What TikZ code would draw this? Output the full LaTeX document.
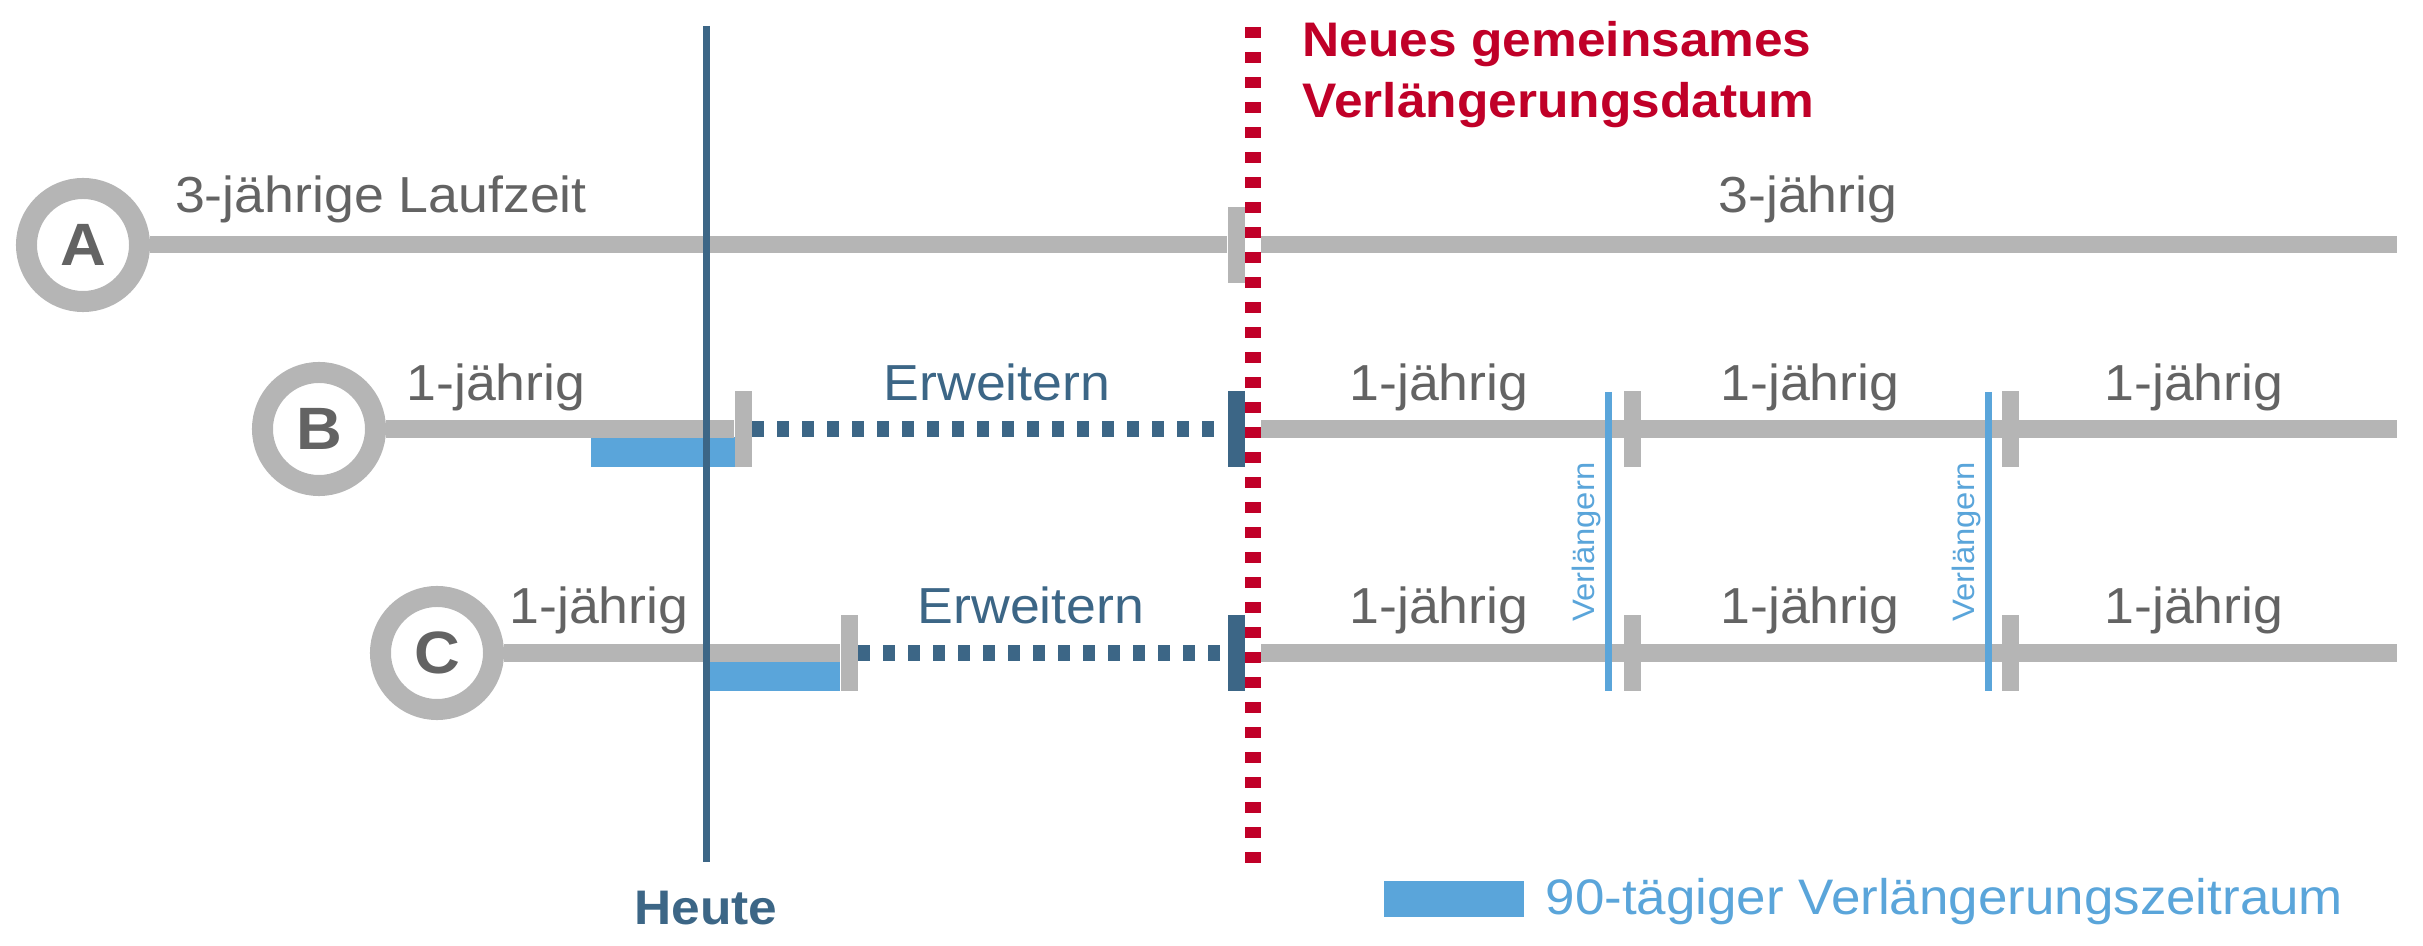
\documentclass[tikz,border=0pt]{standalone}
\usepackage{fontspec}
\setmainfont{Liberation Sans}[FakeStretch=1.06]
\usepackage{tikz}
\definecolor{LineGray}{HTML}{B5B5B5}
\definecolor{TextGray}{HTML}{636363}
\definecolor{DeepBlue}{HTML}{3C6686}
\definecolor{SkyBlue}{HTML}{5AA5DA}
\definecolor{DateRed}{HTML}{C00028}
\tikzset{
  bar/.style={LineGray, line width=0.17cm},
  roundel/.style={circle, draw=LineGray, line width=0.21cm, minimum size=1.13cm, inner sep=0pt,
    text=TextGray, font=\fontsize{17pt}{19pt}\selectfont\bfseries},
  tickmark/.style={rectangle, fill=LineGray, minimum width=0.17cm, minimum height=0.75cm, inner sep=0pt},
  termtext/.style={text=TextGray, anchor=base, inner sep=0pt, font=\fontsize{14.4pt}{17pt}\selectfont},
  exttext/.style={termtext, text=DeepBlue},
  verltext/.style={text=SkyBlue, rotate=90, anchor=base, inner sep=0pt, font=\fontsize{8.8pt}{10pt}\selectfont},
  dotbar/.style={DeepBlue, line width=0.16cm, dash pattern=on 0.12cm off 0.13cm}
}

\begin{document}
\begin{tikzpicture}[x=0.01cm, y=-0.01cm]
        \useasboundingbox (0,0) rectangle (2423,946);

        \node[roundel] (circA) at (83,245) {A};
        \node[roundel] (circB) at (319,429) {B};
        \node[roundel] (circC) at (437,653) {C};
        \coordinate (endA) at (2397,245);
        \coordinate (endB) at (2397,429);
        \coordinate (endC) at (2397,653);

        \fill[SkyBlue] (591,437) rectangle (735,467);
        \fill[SkyBlue] (703,662) rectangle (840,691);

        \node[tickmark] (tA) at (1236,245) {};
        \node[tickmark] (tB0) at (743,429) {};
        \node[tickmark] (tC0) at (849,653) {};
        \node[tickmark, fill=DeepBlue] (dB) at (1236,429) {};
        \node[tickmark, fill=DeepBlue] (dC) at (1236,653) {};

        \draw[bar] (circA) -- (tA) -- (endA);
        \draw[bar] (circB) -- (tB0.west);
        \draw[bar] (dB.east) -- (endB);
        \draw[bar] (circC) -- (tC0.west);
        \draw[bar] (dC.east) -- (endC);
        \draw[dotbar] (tB0.east) -- (dB.west);
        \draw[dotbar] (tC0.east) -- (dC.west);

        \node[tickmark] (tB1) at (1632,429) {};
        \node[tickmark] (tB2) at (2010,429) {};
        \node[tickmark] (tC1) at (1632,653) {};
        \node[tickmark] (tC2) at (2010,653) {};

        \coordinate (heuteTop) at (706,26);
        \coordinate (heuteBot) at (706,862);
        \draw[DeepBlue, line width=0.07cm] (heuteTop) -- (heuteBot);
        \node[anchor=base, DeepBlue, inner sep=0pt, font=\fontsize{13.8pt}{16pt}\selectfont\bfseries] (heute) at (706,925) {Heute};

        \coordinate (datTop) at (1253,27);
        \coordinate (datBot) at (1253,864);
        \draw[white, line width=0.16cm] (datTop) -- (datBot);
        \draw[DateRed, line width=0.16cm, dash pattern=on 0.11cm off 0.14cm] (datTop) -- (datBot);
        \node[anchor=base west, DateRed, inner sep=0pt, font=\fontsize{13.8pt}{16pt}\selectfont\bfseries] (title1) at (1302,57) {Neues gemeinsames};
        \node[anchor=base west, DateRed, inner sep=0pt, font=\fontsize{13.8pt}{16pt}\selectfont\bfseries] (title2) at (1302,118) {Verlängerungsdatum};

        \coordinate (verl1Top) at (1608,392);
        \coordinate (verl1Bot) at (1608,691);
        \coordinate (verl2Top) at (1988,392);
        \coordinate (verl2Bot) at (1988,691);
        \draw[SkyBlue, line width=0.07cm] (verl1Top) -- (verl1Bot);
        \draw[SkyBlue, line width=0.07cm] (verl2Top) -- (verl2Bot);
        \node[verltext] (verl1) at (1594,542) {Verlängern};
        \node[verltext] (verl2) at (1974,542) {Verlängern};

        \node[termtext] (labA) at (381,213) {3-jährige Laufzeit};
        \node[termtext] (labA1) at (1808,213) {3-jährig};
        \node[termtext] (labB) at (496,401) {1-jährig};
        \node[exttext] (extB) at (997,401) {Erweitern};
        \node[termtext] (labB1) at (1439,401) {1-jährig};
        \node[termtext] (labB2) at (1810,401) {1-jährig};
        \node[termtext] (labB3) at (2194,401) {1-jährig};
        \node[termtext] (labC) at (599,624) {1-jährig};
        \node[exttext] (extC) at (1031,624) {Erweitern};
        \node[termtext] (labC1) at (1439,624) {1-jährig};
        \node[termtext] (labC2) at (1810,624) {1-jährig};
        \node[termtext] (labC3) at (2194,624) {1-jährig};

        \node[fill=SkyBlue, minimum width=1.4cm, minimum height=0.36cm, inner sep=0pt, anchor=north west] (legbox) at (1383,880) {};
        \node[anchor=base west, text=SkyBlue, inner sep=0pt, font=\fontsize{14.2pt}{17pt}\selectfont] (legtext) at (1545,915) {90-tägiger Verlängerungszeitraum};
    \end{tikzpicture}
\end{document}
